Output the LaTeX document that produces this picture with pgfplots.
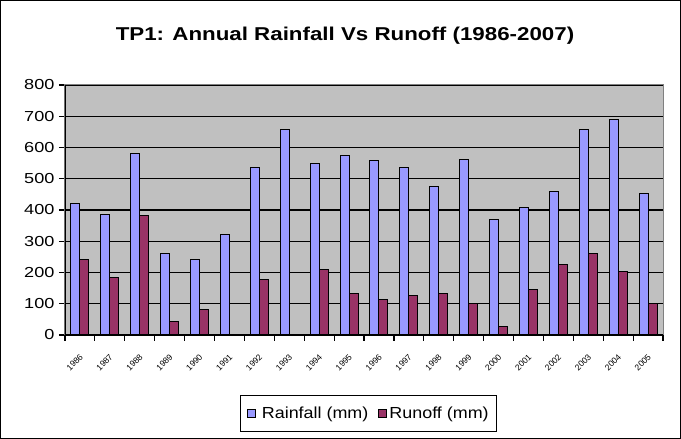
\documentclass[border=0pt]{standalone}
\usepackage{pgfplots}
\pgfplotsset{compat=1.18}
\usepackage{fontspec}
\setmainfont{Liberation Sans}
\usepackage{graphicx}
\definecolor{rain}{HTML}{9999FF}
\definecolor{runoff}{HTML}{993366}
\definecolor{plotbg}{HTML}{C0C0C0}
\definecolor{framegray}{HTML}{808080}
\begin{document}
\begin{tikzpicture}[x=1pt,y=1pt]
\draw[line width=1.2pt] (0.6,0.6) rectangle (680.4,438.4);
\node[font=\fontsize{18.6}{20}\selectfont\bfseries] at (345,403) {\scalebox{1.2}[1]{TP1: Annual Rainfall Vs Runoff (1986-2007)}};
\begin{axis}[
  at={(65pt,104pt)}, anchor=south west,
  scale only axis, width=598pt, height=250pt,
  xmin=-0.5, xmax=19.5, ymin=0, ymax=800,
  ytick={0,100,...,800},
  xtick={0,...,19},
  xticklabels={1986,1987,1988,1989,1990,1991,1992,1993,1994,1995,1996,1997,1998,1999,2000,2001,2002,2003,2004,2005},
  major x tick style={draw=none},
  minor xtick={-0.5,0.5,...,19.5},
  tick align=outside, tick pos=left,
  major tick length=6pt, minor tick length=6pt,
  every tick/.style={black, line width=1.2pt},
  minor tick style={black, line width=1.2pt},
  ymajorgrids, major grid style={black, line width=1.3pt},
  axis background/.style={fill=plotbg},
  axis line style={draw=framegray, line width=1pt},
  /pgf/number format/assume math mode=true,
  yticklabel={\scalebox{1.25}[1]{\pgfmathprintnumber{\tick}}},
  yticklabel style={font=\fontsize{14.5}{15}\selectfont, xshift=-1pt},
  xticklabel style={font=\fontsize{8.5}{8.5}\selectfont, rotate=45, anchor=north east, xshift=-6pt, yshift=-5pt},
  legend style={at={(0.508,-0.314)}, anchor=center, draw=black, line width=1pt, fill=white,
    font=\fontsize{16}{16}\selectfont, inner xsep=6pt, inner ysep=9pt,
    /tikz/every even column/.append style={column sep=8pt}},
  legend columns=2,
]
\addplot[ybar, bar width=0.3, bar shift=-0.15, fill=rain, draw=black, line width=1pt,
  legend image code/.code={\draw[fill=rain,draw=black,line width=1pt] (0pt,-4pt) rectangle (8pt,4pt);}]
  coordinates {(0,421) (1,384) (2,581) (3,261) (4,242) (5,320) (6,537) (7,658) (8,549) (9,574)
  (10,557) (11,537) (12,474) (13,562) (14,369) (15,409) (16,459) (17,659) (18,690) (19,452)};
\addlegendentry{\hspace{4pt}\scalebox{1.12}[1]{Rainfall (mm)}}
\addplot[ybar, bar width=0.3, bar shift=0.15, fill=runoff, draw=black, line width=1pt,
  legend image code/.code={\draw[fill=runoff,draw=black,line width=1pt] (0pt,-4pt) rectangle (8pt,4pt);}]
  coordinates {(0,242) (1,185) (2,383) (3,43) (4,82) (6,179) (8,210) (9,133)
  (10,115) (11,127) (12,133) (13,101) (14,27) (15,147) (16,224) (17,261) (18,204) (19,101)};
\addlegendentry{\scalebox{1.12}[1]{Runoff (mm)}\hspace{10pt}}
\draw[black, line width=1.2pt] (rel axis cs:0,1) -- (rel axis cs:0,0) -- (rel axis cs:1,0);
\end{axis}
\end{tikzpicture}
\end{document}
